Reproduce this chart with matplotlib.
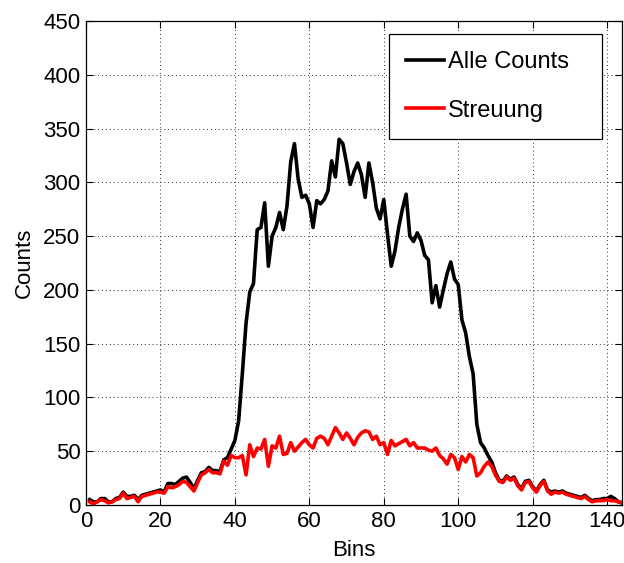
import numpy as np
import matplotlib
matplotlib.use("Agg")
import matplotlib.pyplot as plt

plt.rcParams['font.family'] = ['Liberation Sans', 'DejaVu Sans']

bins = np.arange(1, 145)

# total counts per bin
alle_counts = [
    5, 3, 3, 6, 6, 3, 3, 6, 7, 12,
    8, 8, 9, 5, 9, 10, 11, 12, 13, 14,
    12, 20, 20, 19, 22, 25, 26, 21, 15, 23,
    30, 31, 35, 32, 32, 31, 42, 44, 52, 60,
    78, 122, 169, 198, 206, 256, 258, 281, 222, 250,
    258, 272, 256, 278, 319, 336, 303, 286, 288, 280,
    258, 283, 280, 284, 292, 320, 305, 340, 336, 318,
    298, 310, 318, 307, 286, 318, 300, 276, 266, 284,
    252, 222, 236, 258, 275, 289, 250, 245, 253, 246,
    232, 228, 188, 204, 184, 200, 215, 226, 210, 205,
    172, 160, 138, 122, 75, 58, 53, 46, 40, 30,
    23, 22, 27, 24, 26, 19, 15, 22, 23, 17,
    13, 19, 23, 14, 12, 13, 12, 13, 11, 10,
    9, 8, 7, 9, 6, 4, 5, 5, 6, 6,
    8, 6, 3, 2,
]

# scattered counts per bin
streuung = [
    3, 1, 3, 5, 4, 2, 3, 5, 6, 11,
    6, 7, 8, 3, 8, 9, 10, 11, 12, 12,
    11, 17, 16, 17, 19, 22, 21, 17, 13, 21,
    28, 30, 33, 30, 30, 29, 41, 37, 46, 44,
    44, 46, 28, 56, 45, 53, 52, 61, 36, 55,
    53, 64, 47, 48, 58, 50, 54, 58, 61, 56,
    53, 62, 64, 62, 56, 64, 72, 67, 61, 67,
    62, 56, 63, 67, 69, 68, 61, 64, 56, 58,
    47, 60, 55, 57, 59, 61, 55, 58, 53, 53,
    53, 51, 50, 53, 46, 43, 38, 47, 44, 33,
    45, 40, 47, 44, 27, 30, 36, 40, 36, 28,
    22, 21, 26, 23, 25, 18, 14, 21, 22, 16,
    12, 18, 22, 13, 10, 12, 11, 12, 10, 9,
    8, 7, 6, 8, 5, 3, 4, 4, 4, 5,
    4, 4, 3, 2,
]

fig = plt.figure(figsize=(6.24, 5.63), dpi=100)
ax = fig.add_axes([0.1378, 0.103, 0.8590, 0.8597])

ax.plot(bins, alle_counts, color='black', lw=2.6, label='Alle Counts')
ax.plot(bins, streuung, color='red', lw=2.6, label='Streuung')

ax.set_xlim(0, 144)
ax.set_ylim(0, 450)
ax.set_xticks(np.arange(0, 141, 20))
ax.set_yticks(np.arange(0, 451, 50))
ax.tick_params(direction='in', length=5, width=0.8, top=True, right=True,
               labelsize=16, pad=4)
ax.grid(True, linestyle=(0, (1, 3)), color='black', linewidth=0.7, alpha=0.8)
for s in ax.spines.values():
    s.set_linewidth(0.9)
    s.set_color('black')

ax.set_xlabel('Bins', fontsize=16, labelpad=6)
ax.set_ylabel('Counts', fontsize=16, labelpad=6)

# legend box stretched over a fixed region in the upper right
leg = ax.legend(loc='upper left', bbox_to_anchor=(0.565, 0.762, 0.398, 0.211),
                mode='expand', fontsize=17,
                fancybox=False, framealpha=1, edgecolor='black',
                handlelength=1.6, handletextpad=0.2, labelspacing=1.12,
                borderpad=0.72, borderaxespad=0)
leg.get_frame().set_linewidth(0.9)

fig.savefig('out.png', dpi=100)
